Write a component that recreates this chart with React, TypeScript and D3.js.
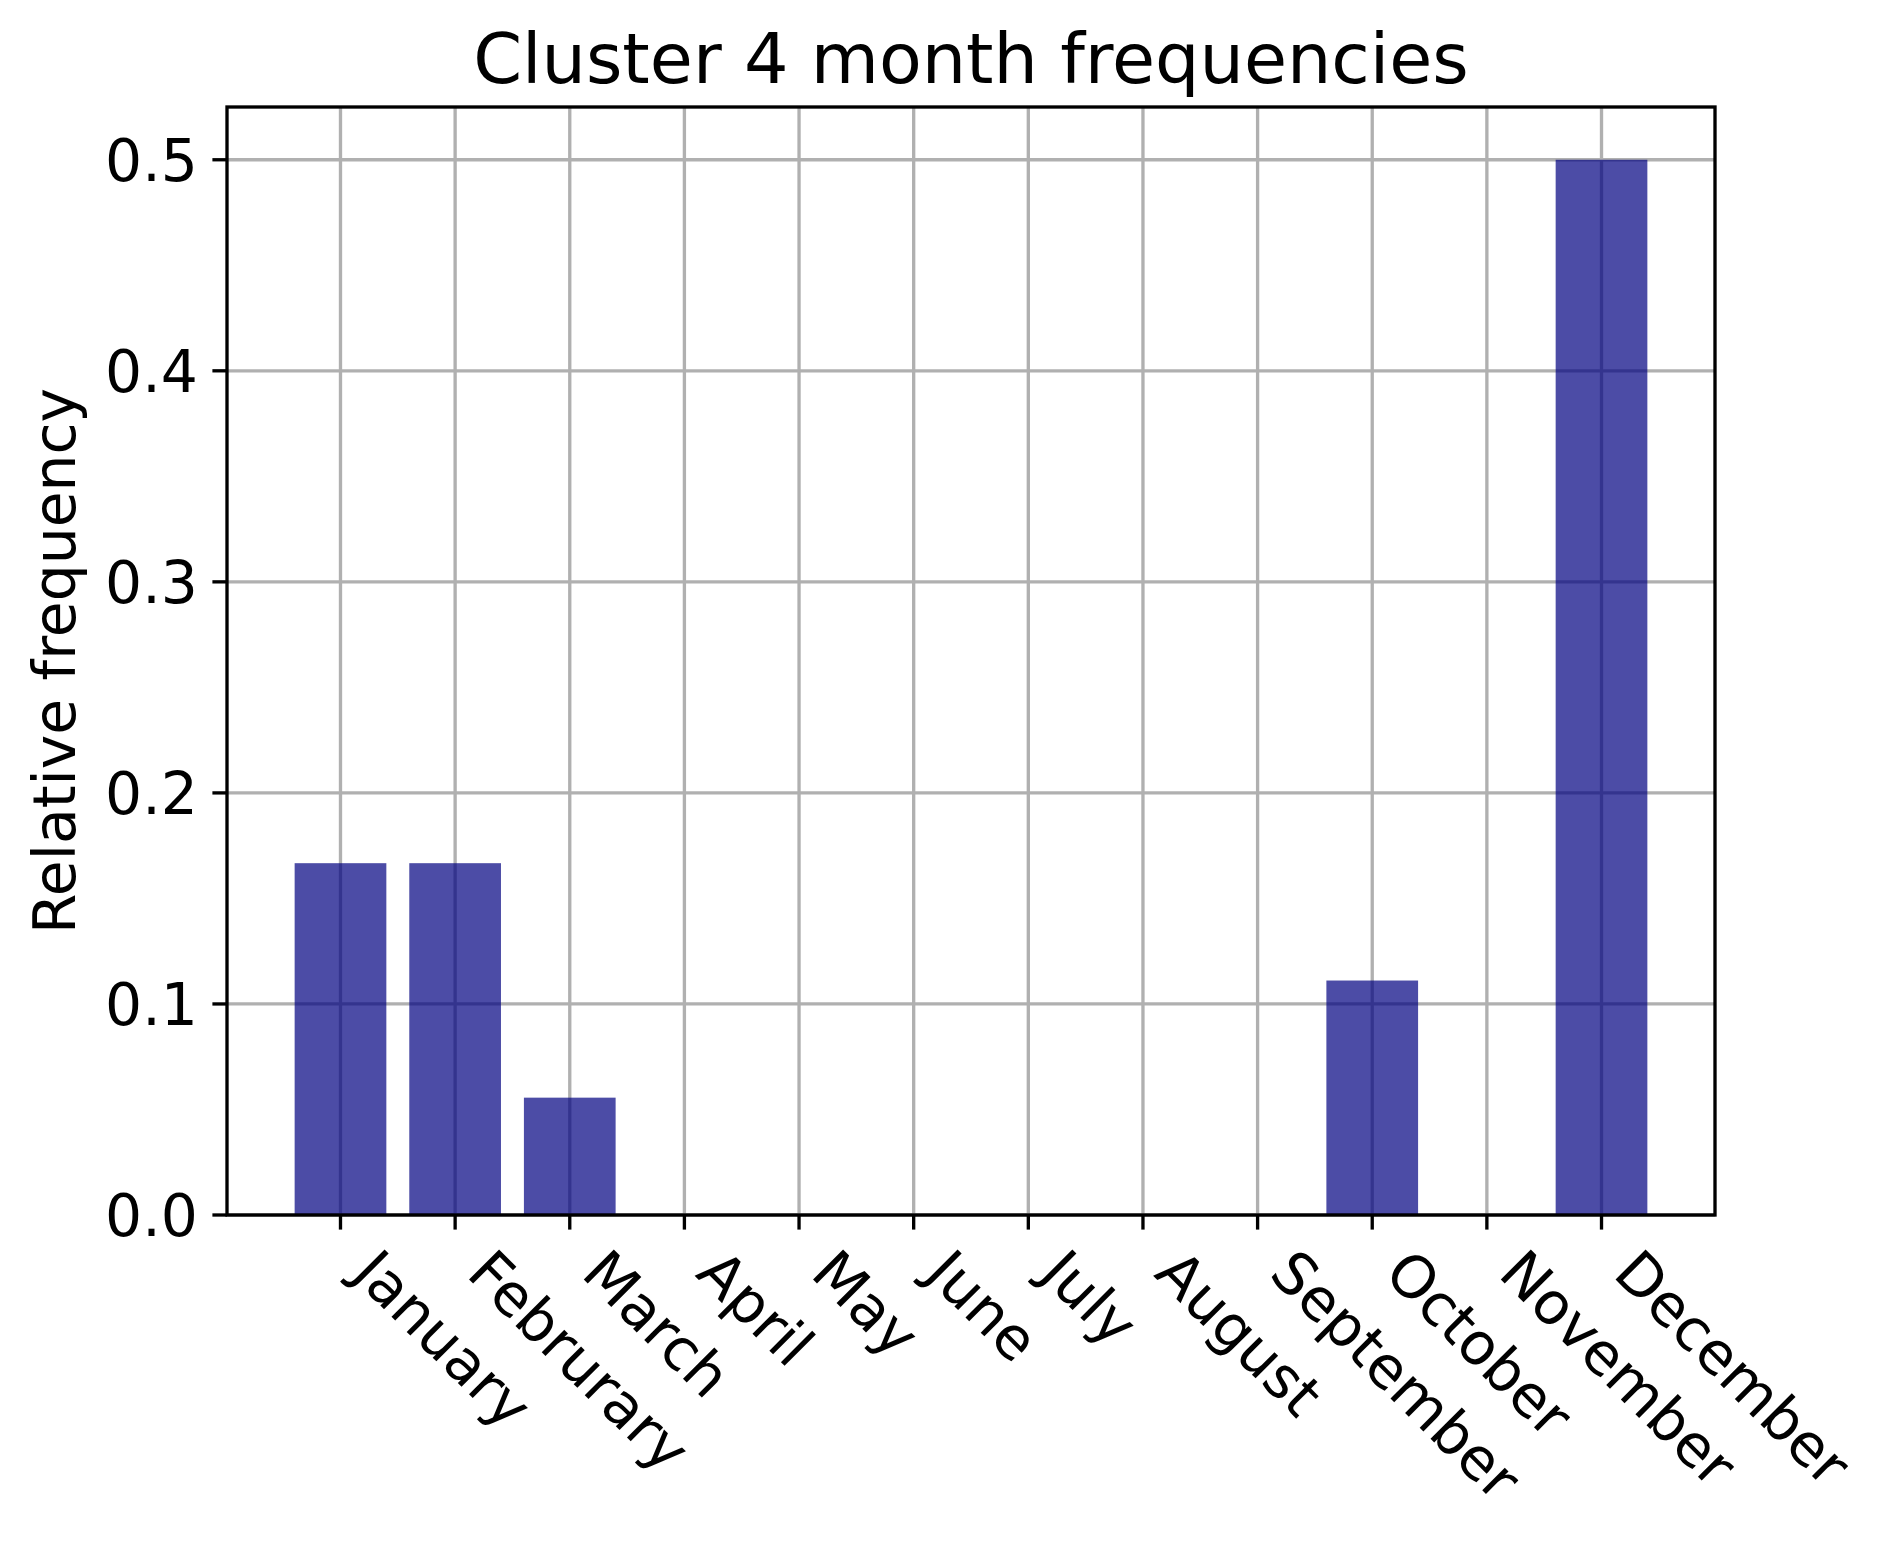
import { useEffect, useRef } from "react";
import * as d3 from "d3";

const months = [
  "January",
  "Februrary",
  "March",
  "April",
  "May",
  "June",
  "July",
  "August",
  "September",
  "October",
  "November",
  "December",
];
const frequencies = [0.1667, 0.1667, 0.0556, 0, 0, 0, 0, 0, 0, 0.1111, 0, 0.5];
const yTicks = [0, 0.1, 0.2, 0.3, 0.4, 0.5];
const title = "Cluster 4 month frequencies";
const yLabel = "Relative frequency";

export default function App() {
  const svgRef = useRef<SVGSVGElement | null>(null);

  useEffect(() => {
    const width = 1884;
    const height = 1544;
    const left = 227;
    const right = 1715;
    const top = 107;
    const bottom = 1215;
    const lw = 3.33;
    const tickLen = 14.6;
    const pad = 14.6;
    const fs = 58.3;
    const font = "DejaVu Sans";

    const svg = d3.select(svgRef.current);
    svg.selectAll("*").remove();
    svg.attr("width", width).attr("height", height);

    const x = d3
      .scaleLinear()
      .domain([-0.99, months.length - 1 + 0.99])
      .range([left, right]);
    const y = d3.scaleLinear().domain([0, 0.525]).range([bottom, top]);

    // grid
    svg
      .append("g")
      .selectAll("line")
      .data(months)
      .enter()
      .append("line")
      .attr("x1", (_, i) => x(i))
      .attr("x2", (_, i) => x(i))
      .attr("y1", top)
      .attr("y2", bottom)
      .attr("stroke", "#b0b0b0")
      .attr("stroke-width", lw);
    svg
      .append("g")
      .selectAll("line")
      .data(yTicks)
      .enter()
      .append("line")
      .attr("x1", left)
      .attr("x2", right)
      .attr("y1", (d) => y(d))
      .attr("y2", (d) => y(d))
      .attr("stroke", "#b0b0b0")
      .attr("stroke-width", lw);

    // bars
    svg
      .append("g")
      .selectAll("rect")
      .data(frequencies)
      .enter()
      .append("rect")
      .attr("x", (_, i) => x(i - 0.4))
      .attr("width", x(0.4) - x(-0.4))
      .attr("y", (d) => y(d))
      .attr("height", (d) => y(0) - y(d))
      .attr("fill", "navy")
      .attr("fill-opacity", 0.7);

    // spines
    svg
      .append("rect")
      .attr("x", left)
      .attr("y", top)
      .attr("width", right - left)
      .attr("height", bottom - top)
      .attr("fill", "none")
      .attr("stroke", "black")
      .attr("stroke-width", lw);

    // y ticks
    const yg = svg.append("g");
    yTicks.forEach((t) => {
      yg.append("line")
        .attr("x1", left - tickLen)
        .attr("x2", left)
        .attr("y1", y(t))
        .attr("y2", y(t))
        .attr("stroke", "black")
        .attr("stroke-width", lw);
      yg.append("text")
        .attr("x", left - tickLen - pad)
        .attr("y", y(t))
        .attr("dy", "0.36em")
        .attr("text-anchor", "end")
        .attr("font-family", font)
        .attr("font-size", fs)
        .text(t.toFixed(1));
    });

    // x ticks
    const xg = svg.append("g");
    months.forEach((m, i) => {
      xg.append("line")
        .attr("x1", x(i))
        .attr("x2", x(i))
        .attr("y1", bottom)
        .attr("y2", bottom + tickLen)
        .attr("stroke", "black")
        .attr("stroke-width", lw);
      const ax = x(i) + 0.707 * 0.24 * fs;
      const ay = bottom + tickLen + pad + 0.707 * 0.76 * fs;
      xg.append("text")
        .attr("transform", `translate(${ax},${ay}) rotate(45)`)
        .attr("font-family", font)
        .attr("font-size", fs)
        .text(m);
    });

    // y label
    svg
      .append("text")
      .attr("transform", `translate(75,${(top + bottom) / 2}) rotate(-90)`)
      .attr("text-anchor", "middle")
      .attr("font-family", font)
      .attr("font-size", fs)
      .text(yLabel);

    // title
    svg
      .append("text")
      .attr("x", (left + right) / 2)
      .attr("y", 83)
      .attr("text-anchor", "middle")
      .attr("font-family", font)
      .attr("font-size", 70)
      .text(title);
  }, []);

  return (
    <svg
      ref={svgRef}
      style={{ position: "absolute", left: 0, top: 0, background: "white" }}
    ></svg>
  );
}
